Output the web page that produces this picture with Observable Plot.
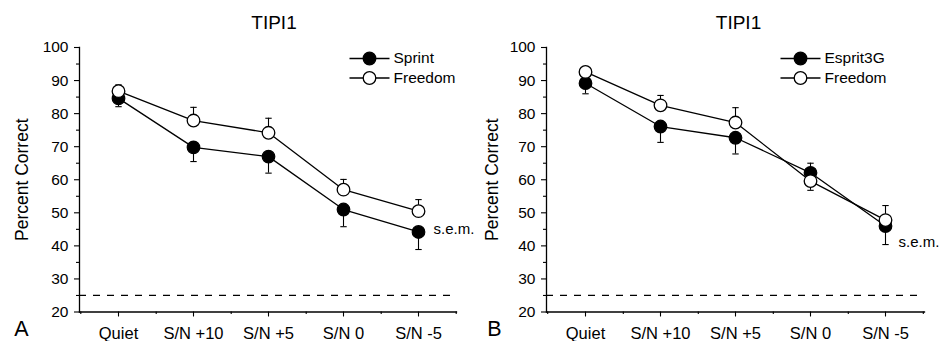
<!DOCTYPE html>
<html>
<head>
<meta charset="utf-8">
<script src="https://cdn.jsdelivr.net/npm/d3@7"></script>
<script src="https://cdn.jsdelivr.net/npm/@observablehq/plot@0.6"></script>
<style>
  html, body { margin: 0; padding: 0; background: #fff; }
  #wrap { display: flex; width: 939px; height: 341px; }
  svg { overflow: visible; }
</style>
</head>
<body>
<div id="wrap"></div>
<script>
// ---- data ----
const categories = ["Quiet", "S/N +10", "S/N +5", "S/N 0", "S/N -5"];
const yTicks = [20, 30, 40, 50, 60, 70, 80, 90, 100];
const yMinor = [25, 35, 45, 55, 65, 75, 85, 95];
const chanceLevel = 25;

const seriesA = ["Sprint", "Freedom"];
const sprintA = [84.6, 69.8, 67.0, 51.0, 44.2];
const sprintSemA = [2.5, 4.3, 5.0, 5.2, 5.3];
const freedomA = [86.8, 77.9, 74.2, 57.0, 50.5];
const freedomSemA = [1.9, 4.0, 4.4, 3.1, 3.5];

const seriesB = ["Esprit3G", "Freedom"];
const espritB = [89.2, 76.1, 72.7, 62.1, 46.0];
const espritSemB = [3.2, 4.8, 4.9, 2.9, 5.6];
const freedomB = [92.6, 82.5, 77.3, 59.6, 47.8];
const freedomSemB = [1.6, 3.0, 4.5, 2.8, 4.4];

// ---- helpers ----
const hline = {
  draw(ctx, size) {
    const w = Math.sqrt(size / Math.PI);
    ctx.moveTo(-w, 0);
    ctx.lineTo(w, 0);
  }
};

function buildRows(names, vals1, sem1, vals2, sem2) {
  const rows = [];
  categories.forEach((c, i) => {
    const d1 = vals1[i] >= vals2[i] ? 1 : -1;
    rows.push({cat: c, series: names[0], value: vals1[i], end: vals1[i] + d1 * sem1[i], filled: true});
    rows.push({cat: c, series: names[1], value: vals2[i], end: vals2[i] - d1 * sem2[i], filled: false});
  });
  return rows;
}

function panel(cfg) {
  const {rows, names, width, ml, mr, titleDx, ylabDx, letter, letterDx, legDx, semDx, semDy} = cfg;
  const mt = 47, mb = 29.5, height = 341;
  const step = (width - ml - mr) / categories.length;
  const filledRows = rows.filter(d => d.filled);
  const openRows = rows.filter(d => !d.filled);
  const legendRows = [11, 30.5];
  return Plot.plot({
    width, height,
    marginLeft: ml, marginRight: mr, marginTop: mt, marginBottom: mb,
    style: {fontFamily: "'Liberation Sans', Arial, sans-serif", fontSize: "15.5px", color: "#000", background: "transparent"},
    x: {type: "point", domain: categories, padding: 0.5, label: null},
    y: {domain: [20, 100], label: null},
    marks: [
      Plot.ruleY([chanceLevel], {stroke: "#000", strokeWidth: 1.2, strokeDasharray: "7,7"}),
      Plot.frame({anchor: "left", stroke: "#000", strokeWidth: 1.3}),
      Plot.frame({anchor: "bottom", stroke: "#000", strokeWidth: 1.3}),
      Plot.axisY(yTicks, {tickSize: 5, tickPadding: 6, stroke: "#000", strokeWidth: 1.1, fontSize: 15.5}),
      Plot.axisY(yMinor, {tickSize: 3, tickFormat: () => "", stroke: "#000", strokeWidth: 1.1}),
      Plot.axisX(categories, {tickSize: 5, tickPadding: 10.5, stroke: "#000", strokeWidth: 1.1, fontSize: 16.5}),
      Plot.axisX(categories, {tickSize: 2.5, dx: step / 2, tickFormat: () => "", stroke: "#000", strokeWidth: 1.1}),
      Plot.axisX([categories[0]], {tickSize: 2.5, dx: -step / 2, tickFormat: () => "", stroke: "#000", strokeWidth: 1.1}),
      Plot.line(rows, {x: "cat", y: "value", z: "series", stroke: "#000", strokeWidth: 1.3}),
      Plot.ruleX(rows, {x: "cat", y1: "value", y2: "end", stroke: "#000", strokeWidth: 1.1}),
      Plot.dot(rows, {x: "cat", y: "end", symbol: hline, r: 3.2, stroke: "#000", strokeWidth: 1.1}),
      Plot.dot(filledRows, {x: "cat", y: "value", r: 6.3, fill: "#000", stroke: "#000", strokeWidth: 1.2}),
      Plot.dot(openRows, {x: "cat", y: "value", r: 6.3, fill: "#fff", stroke: "#000", strokeWidth: 1.3}),
      // legend
      ...names.map((n, i) => Plot.dot([n], {frameAnchor: "top-left", dx: legDx, dy: legendRows[i], symbol: hline, r: 20, stroke: "#000", strokeWidth: 1.3})),
      ...names.map((n, i) => Plot.dot([n], {frameAnchor: "top-left", dx: legDx, dy: legendRows[i], r: 6.3, fill: i === 0 ? "#000" : "#fff", stroke: "#000", strokeWidth: 1.3})),
      ...names.map((n, i) => Plot.text([n], {frameAnchor: "top-left", dx: legDx + 24, dy: legendRows[i], text: d => d, textAnchor: "start", lineAnchor: "middle", fontSize: 15.5})),
      // annotations
      Plot.text(["s.e.m."], {frameAnchor: "top-left", dx: semDx, dy: semDy, text: d => d, textAnchor: "start", lineAnchor: "middle", fontSize: 15}),
      Plot.text(["TIPI1"], {frameAnchor: "top", dx: titleDx, dy: -25, text: d => d, textAnchor: "middle", lineAnchor: "middle", fontSize: 19}),
      Plot.text(["Percent Correct"], {frameAnchor: "left", dx: ylabDx, rotate: -90, text: d => d, textAnchor: "middle", lineAnchor: "middle", fontSize: 17.5}),
      Plot.text([letter], {frameAnchor: "bottom-left", dx: letterDx, dy: 17.5, text: d => d, textAnchor: "middle", lineAnchor: "middle", fontSize: 21.5})
    ]
  });
}

const rowsA = buildRows(seriesA, sprintA, sprintSemA, freedomA, freedomSemA);
const rowsB = buildRows(seriesB, espritB, espritSemB, freedomB, freedomSemB);

const wrap = document.getElementById("wrap");
wrap.appendChild(panel({rows: rowsA, names: seriesA, width: 470, ml: 79, mr: 14, titleDx: 6, ylabDx: -57, letter: "A", letterDx: -58, legDx: 290, semDx: 354, semDy: 182}));
wrap.appendChild(panel({rows: rowsB, names: seriesB, width: 469, ml: 76, mr: 15, titleDx: 3, ylabDx: -54.5, letter: "B", letterDx: -52, legDx: 254, semDx: 352, semDy: 195}));
</script>
</body>
</html>
